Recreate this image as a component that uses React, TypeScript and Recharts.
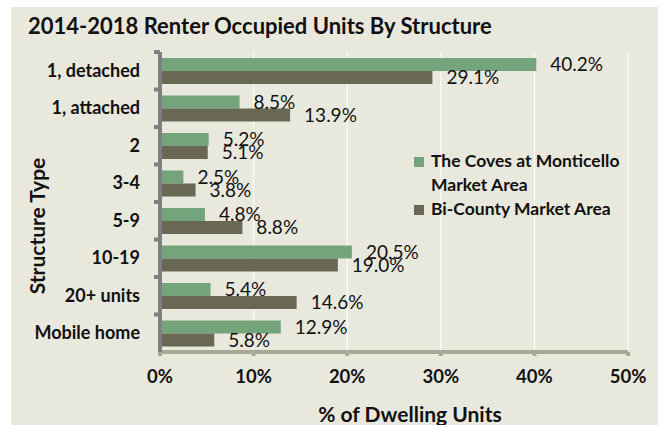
import React from 'react';
import { BarChart, Bar, XAxis, YAxis, CartesianGrid, LabelList } from 'recharts';

const categories = ['1, detached', '1, attached', '2', '3-4', '5-9', '10-19', '20+ units', 'Mobile home'];
const covesValues = [40.2, 8.5, 5.2, 2.5, 4.8, 20.5, 5.4, 12.9];
const biCountyValues = [29.1, 13.9, 5.1, 3.8, 8.8, 19.0, 14.6, 5.8];
const xTicks = [0, 10, 20, 30, 40, 50];

const COVES_NAME = 'The Coves at Monticello Market Area';
const BI_NAME = 'Bi-County Market Area';

const GREEN = '#73A47B';
const GRAY = '#686855';
const BG = '#E9E8DD';
const FONT = 'Lato, "Open Sans", sans-serif';

const data = categories.map((name, i) => ({
  name,
  coves: covesValues[i],
  bi: biCountyValues[i],
}));

const pct = (v: number) => `${v.toFixed(1)}%`;

const YTick = (props: any) => {
  const { x, y, payload } = props;
  const off = payload.offset || 0;
  const axisX = x + 20;
  return (
    <g>
      <text x={x} y={y} dy={6} textAnchor="end" fontFamily={FONT} fontWeight={700} fontSize={18} fill="#111">
        {payload.value}
      </text>
      <line x1={axisX - 6} x2={axisX} y1={y - off} y2={y - off} stroke="#7F7F7F" strokeWidth={4} />
    </g>
  );
};

export default function App() {
  return (
    <div style={{ position: 'absolute', left: 0, top: 0, width: 658, height: 425, background: '#fff' }}>
      <div style={{ position: 'absolute', left: 11, top: 7, width: 647, height: 418, background: BG, fontFamily: FONT }}>
        <BarChart
          layout="vertical"
          width={647}
          height={418}
          data={data}
          margin={{ top: 45, right: 30, left: 0, bottom: 0 }}
          barGap={0}
          barSize={13}
        >
          <CartesianGrid horizontal={false} stroke="#FFFFFF" strokeWidth={1} />
          <XAxis
            type="number"
            domain={[0, 50]}
            ticks={xTicks}
            tickFormatter={(v) => `${v}%`}
            height={73}
            axisLine={{ stroke: '#A8A895', strokeWidth: 4 }}
            tickLine={{ stroke: '#A8A895', strokeWidth: 4 }}
            tickSize={4}
            tickMargin={14}
            tick={{ fontFamily: FONT, fontWeight: 700, fontSize: 18.5, fill: '#111' }}
          />
          <YAxis
            type="category"
            dataKey="name"
            width={149}
            axisLine={{ stroke: '#7F7F7F', strokeWidth: 4 }}
            tickLine={false}
            tickSize={4}
            tickMargin={16}
            tick={<YTick />}
            interval={0}
          />
          <Bar dataKey="coves" name={COVES_NAME} fill={GREEN} isAnimationActive={false}>
            <LabelList dataKey="coves" position="right" offset={14} formatter={pct as any}
              style={{ fontFamily: FONT, fontSize: 19, fill: '#111' }} />
          </Bar>
          <Bar dataKey="bi" name={BI_NAME} fill={GRAY} isAnimationActive={false}>
            <LabelList dataKey="bi" position="right" offset={14} formatter={pct as any}
              style={{ fontFamily: FONT, fontSize: 19, fill: '#111' }} />
          </Bar>
        </BarChart>

        <div style={{ position: 'absolute', left: 17, top: 8, fontSize: 22, fontWeight: 700, lineHeight: 1, color: '#111', whiteSpace: 'nowrap' }}>
          2014-2018 Renter Occupied Units By Structure
        </div>

        <div style={{ position: 'absolute', left: 25, top: 219, transform: 'translate(-50%, -50%) rotate(-90deg)', fontSize: 21, fontWeight: 700, lineHeight: 1, color: '#111', whiteSpace: 'nowrap' }}>
          Structure Type
        </div>

        <div style={{ position: 'absolute', left: 399, top: 396, transform: 'translateX(-50%)', fontSize: 21, fontWeight: 700, lineHeight: 1, color: '#111', whiteSpace: 'nowrap' }}>
          % of Dwelling Units
        </div>

        <div style={{ position: 'absolute', left: 403, top: 142, fontSize: 17.5, fontWeight: 700, color: '#111', lineHeight: '24px' }}>
          {[{ c: GREEN, t: ['The Coves at Monticello', 'Market Area'] }, { c: GRAY, t: [BI_NAME] }].map((it, i) => (
            <div key={i} style={{ display: 'flex', alignItems: 'flex-start' }}>
              <span style={{ display: 'inline-block', width: 10, height: 10, background: it.c, marginTop: 8, marginRight: 7 }} />
              <div>{it.t.map((l) => <div key={l}>{l}</div>)}</div>
            </div>
          ))}
        </div>
      </div>
    </div>
  );
}
